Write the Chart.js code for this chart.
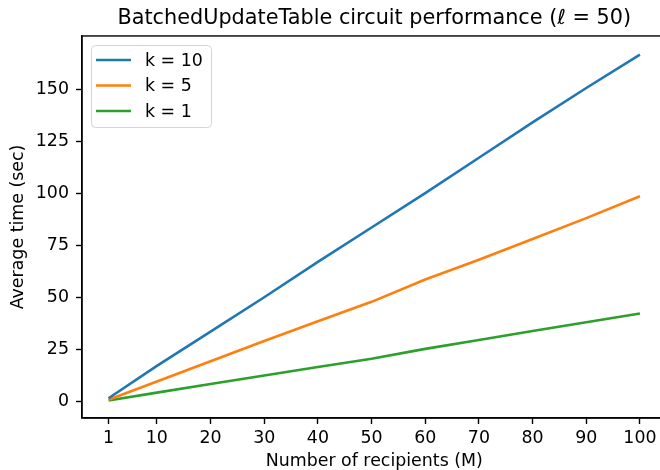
<!DOCTYPE html>
<html>
<head>
<meta charset="utf-8">
<script src="https://cdn.jsdelivr.net/npm/chart.js@4"></script>
<style>
  body { margin: 0; background: #fff; }
  #wrap { width: 660px; height: 470px; overflow: hidden; }
  #box { width: 672px; height: 470px; }
</style>
</head>
<body>
<div id="wrap"><div id="box"><canvas id="graphCanvas"></canvas></div></div>
<script>
// values
const recipients = [1, 10, 20, 30, 40, 50, 60, 70, 80, 90, 100];
const k10 = [1.5, 17, 33.5, 50, 67, 83.5, 100, 117, 134, 150.5, 166.5];
const k5 = [0.8, 9.5, 19.3, 29, 38.5, 47.8, 58.5, 68, 78, 88, 98.5];
const k1 = [0.4, 4.2, 8.3, 12.4, 16.5, 20.5, 25.2, 29.5, 33.8, 38, 42.2];
const yTicks = [0, 25, 50, 75, 100, 125, 150];

const FONT = "'DejaVu Sans', sans-serif";
const FS = 17.4;

function toPoints(ys) {
    return recipients.map((x, i) => ({ x: x, y: ys[i] }));
}

// frame round the plot area plus a matplotlib style legend inside it
const framePlugin = {
    id: 'frame',
    afterDraw(chart) {
        const ctx = chart.ctx;
        const a = chart.chartArea;
        ctx.save();
        ctx.strokeStyle = '#000';
        ctx.lineWidth = 1.4;
        ctx.strokeRect(a.left, a.top, a.right - a.left, a.bottom - a.top);

        const x0 = 91, y0 = 45, w = 120, h = 82;
        ctx.beginPath();
        ctx.roundRect(x0 + 0.5, y0 + 0.5, w, h, 4);
        ctx.fillStyle = 'rgba(255,255,255,0.8)';
        ctx.fill();
        ctx.strokeStyle = '#d5d5d5';
        ctx.lineWidth = 1;
        ctx.stroke();

        ctx.font = FS + 'px ' + FONT;
        ctx.textBaseline = 'middle';
        chart.data.datasets.forEach((ds, i) => {
            const yy = 60 + i * 25.5;
            ctx.strokeStyle = ds.borderColor;
            ctx.lineWidth = 2.6;
            ctx.beginPath();
            ctx.moveTo(96, yy);
            ctx.lineTo(131, yy);
            ctx.stroke();
            ctx.fillStyle = '#000';
            ctx.fillText(ds.label, 145, yy + 1);
        });
        ctx.restore();
    }
};

new Chart(document.getElementById('graphCanvas'), {
    type: 'line',
    data: {
        datasets: [
            { label: 'k = 10', data: toPoints(k10), borderColor: '#1f77b4' },
            { label: 'k = 5', data: toPoints(k5), borderColor: '#ff7f0e' },
            { label: 'k = 1', data: toPoints(k1), borderColor: '#2ca02c' }
        ]
    },
    options: {
        responsive: true,
        maintainAspectRatio: false,
        animation: false,
        layout: { padding: { left: 0, right: 5.5, top: 0, bottom: 0 } },
        elements: {
            line: { borderWidth: 2.6, tension: 0, fill: false },
            point: { radius: 0 }
        },
        plugins: {
            legend: { display: false },
            tooltip: { enabled: false },
            title: {
                display: true,
                fullSize: false,
                text: 'BatchedUpdateTable circuit performance (ℓ = 50)',
                color: '#000',
                font: { family: FONT, size: 20.8, weight: 'normal', lineHeight: 1.2 },
                padding: { top: 6, bottom: 5 }
            }
        },
        scales: {
            x: {
                type: 'linear',
                min: -3.95,
                max: 104.95,
                afterBuildTicks: axis => { axis.ticks = recipients.map(v => ({ value: v })); },
                afterFit: axis => { axis.height = 52; },
                grid: { display: true, drawOnChartArea: false, tickLength: 6, tickColor: '#000', tickWidth: 1.4 },
                border: { display: true, color: '#000', width: 1.4 },
                ticks: {
                    color: '#000',
                    font: { family: FONT, size: FS },
                    padding: 4,
                    maxRotation: 0,
                    autoSkip: false
                },
                title: {
                    display: true,
                    text: 'Number of recipients (M)',
                    color: '#000',
                    font: { family: FONT, size: FS, lineHeight: 1 },
                    padding: { top: 0, bottom: 0 }
                }
            },
            y: {
                min: -8.0,
                max: 175.5,
                afterBuildTicks: axis => { axis.ticks = yTicks.map(v => ({ value: v })); },
                afterFit: axis => { axis.width = 82; },
                grid: { display: true, drawOnChartArea: false, tickLength: 6, tickColor: '#000', tickWidth: 1.4 },
                border: { display: true, color: '#000', width: 1.4 },
                ticks: {
                    color: '#000',
                    font: { family: FONT, size: FS },
                    padding: 7
                },
                title: {
                    display: true,
                    text: 'Average time (sec)',
                    color: '#000',
                    font: { family: FONT, size: FS },
                    padding: { top: 8, bottom: 0 }
                }
            }
        }
    },
    plugins: [framePlugin]
});
</script>
</body>
</html>
